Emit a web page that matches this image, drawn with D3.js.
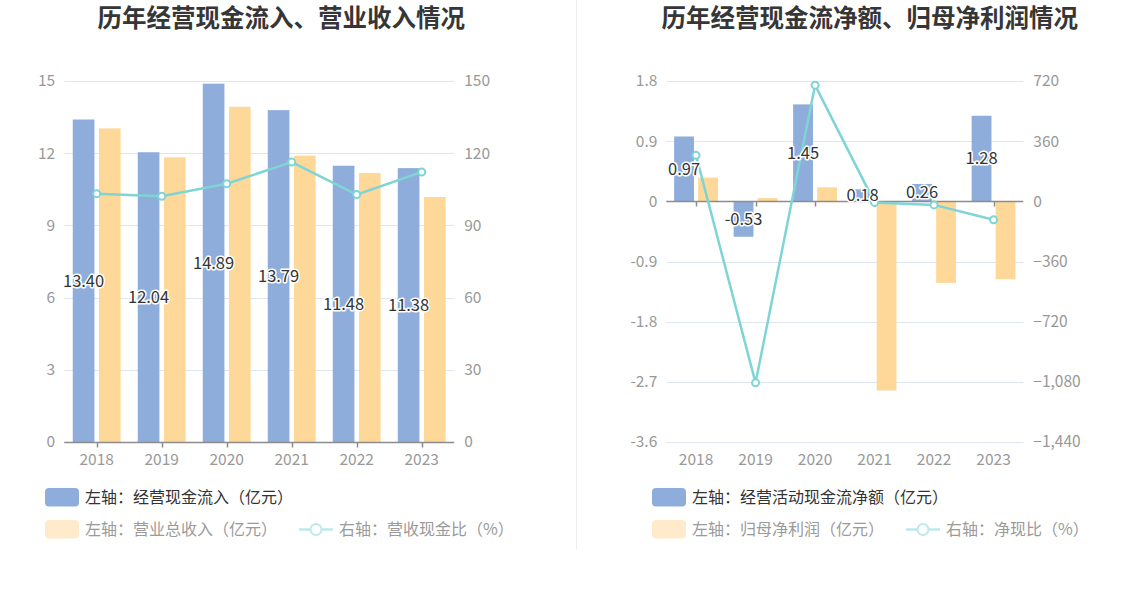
<!DOCTYPE html>
<html>
<head>
<meta charset="utf-8">
<script src="https://cdn.jsdelivr.net/npm/d3@7"></script>
<style>
  body { margin: 0; background: #fff; }
  svg { display: block; font-family: "Noto Sans CJK SC", "Open Sans", sans-serif; }
  .val { font-size: 16.5px; fill: #333; stroke: #fff; stroke-width: 3px; paint-order: stroke; stroke-linejoin: round; }
  .tick-label { font-size: 15.5px; fill: #999; }
</style>
</head>
<body>
<svg width="1148" height="589"></svg>
<script>
// categories
const years = ["2018", "2019", "2020", "2021", "2022", "2023"];

// left chart: 经营现金流入 / 营业总收入 (亿元), 营收现金比 (%)
const cashInflow = [13.40, 12.04, 14.89, 13.79, 11.48, 11.38];
const revenue = [13.03, 11.83, 13.93, 11.90, 11.18, 10.18];
const cashRatio = [103.2, 102.1, 107.3, 116.3, 102.8, 112.2];
const leftTicksL = [0, 3, 6, 9, 12, 15];
const leftTicksR = [0, 30, 60, 90, 120, 150];

// right chart: 经营活动现金流净额 / 归母净利润 (亿元), 净现比 (%)
const netCashFlow = [0.97, -0.53, 1.45, 0.18, 0.26, 1.28];
const netProfit = [0.355, 0.049, 0.209, -2.83, -1.22, -1.165];
const netCashRatio = [275, -1086, 695, -6.4, -21.3, -110];
const rightTicksL = [-3.6, -2.7, -1.8, -0.9, 0, 0.9, 1.8];
const rightTicksR = [-1440, -1080, -720, -360, 0, 360, 720];

const BLUE = "#8eadda", ORANGE = "#fed899", LINE = "#7fd4d6";
const GRID = "#e0e6f1", AXIS = "#8c8c8c";

const svg = d3.select("svg");
svg.append("rect").attr("width", 1148).attr("height", 589).attr("fill", "#fff");

// divider between the two charts
svg.append("line").attr("x1", 576.5).attr("x2", 576.5).attr("y1", 0).attr("y2", 549)
    .attr("stroke", "#eee");

function drawChart(c) {
    const g = svg.append("g");
    const x = d3.scaleBand().domain(years).range([c.x0, c.x1]);
    const yL = d3.scaleLinear().domain(d3.extent(c.ticksL)).range([442, 81]);
    const yR = d3.scaleLinear().domain(d3.extent(c.ticksR)).range([442, 81]);
    const bw = x.bandwidth() / 3, gap = bw * 0.21;
    const cx = d => x(d) + x.bandwidth() / 2;

    // title
    g.append("text").attr("x", (c.x0 + c.x1) / 2 + c.titleShift).attr("y", 27)
        .attr("text-anchor", "middle").attr("font-size", 24.5).attr("font-weight", "bold")
        .attr("fill", "#363636").text(c.title);

    // grid
    g.selectAll(".grid").data(c.ticksL.filter(t => t !== 0 || c.ticksL[0] !== 0)).enter()
        .append("line")
        .attr("x1", c.x0).attr("x2", c.x1)
        .attr("y1", d => Math.round(yL(d)) + 0.5).attr("y2", d => Math.round(yL(d)) + 0.5)
        .attr("stroke", GRID);

    // axis labels
    g.selectAll(".tl").data(c.ticksL).enter().append("text").attr("class", "tick-label")
        .attr("x", c.x0 - 9).attr("y", d => yL(d)).attr("dy", "0.35em")
        .attr("text-anchor", "end").text(d => c.fmtL(d));
    g.selectAll(".tr").data(c.ticksR).enter().append("text").attr("class", "tick-label")
        .attr("x", c.x1 + 10).attr("y", d => yR(d)).attr("dy", "0.35em")
        .attr("text-anchor", "start").text(d => c.fmtR(d));

    // bars
    g.selectAll(".b1").data(years).enter().append("rect")
        .attr("x", d => cx(d) - gap / 2 - bw)
        .attr("y", (d, i) => Math.min(yL(c.s1[i]), yL(0)))
        .attr("width", bw)
        .attr("height", (d, i) => Math.abs(yL(c.s1[i]) - yL(0)))
        .attr("fill", BLUE);
    g.selectAll(".b2").data(years).enter().append("rect")
        .attr("x", d => cx(d) + gap / 2)
        .attr("y", (d, i) => Math.min(yL(c.s2[i]), yL(0)))
        .attr("width", bw)
        .attr("height", (d, i) => Math.abs(yL(c.s2[i]) - yL(0)))
        .attr("fill", ORANGE);

    // x axis at zero
    const y0 = Math.round(yL(0)) + 0.5;
    g.append("line").attr("x1", c.x0).attr("x2", c.x1).attr("y1", y0).attr("y2", y0)
        .attr("stroke", AXIS).attr("stroke-width", 1.5);
    g.selectAll(".tk").data(years).enter().append("line")
        .attr("x1", d => Math.round(cx(d)) + 0.5).attr("x2", d => Math.round(cx(d)) + 0.5)
        .attr("y1", y0).attr("y2", y0 + 5).attr("stroke", AXIS).attr("stroke-width", 1.5);
    g.selectAll(".xl").data(years).enter().append("text").attr("class", "tick-label")
        .attr("x", cx).attr("y", 465).attr("text-anchor", "middle")
        .attr("font-size", 16).text(d => d);

    // ratio line
    const line = d3.line().x((d, i) => cx(years[i])).y(d => yR(d));
    g.append("path").datum(c.s3).attr("d", line).attr("fill", "none")
        .attr("stroke", LINE).attr("stroke-width", 2.5).attr("stroke-linejoin", "round");
    g.selectAll(".pt").data(c.s3).enter().append("circle")
        .attr("cx", (d, i) => cx(years[i])).attr("cy", d => yR(d)).attr("r", 3.5)
        .attr("fill", "#fff").attr("stroke", LINE).attr("stroke-width", 2);

    // value labels in middle of blue bars
    g.selectAll(".val").data(c.s1).enter().append("text").attr("class", "val")
        .attr("x", (d, i) => cx(years[i]) - gap / 2 - bw / 2)
        .attr("y", d => (yL(d) + yL(0)) / 2).attr("dy", "0.35em")
        .attr("text-anchor", "middle").text(d => d.toFixed(2));

    // legend
    const lg = g.append("g").attr("font-size", 16);
    lg.append("rect").attr("x", c.lx).attr("y", 488).attr("width", 34).attr("height", 18.5)
        .attr("rx", 4).attr("fill", BLUE);
    lg.append("text").attr("x", c.lx + 40).attr("y", 497).attr("dy", "0.35em")
        .attr("fill", "#333").text(c.leg[0]);
    lg.append("rect").attr("x", c.lx).attr("y", 520).attr("width", 34).attr("height", 18.5)
        .attr("rx", 4).attr("fill", "#ffebcb");
    const t2 = lg.append("text").attr("x", c.lx + 40).attr("y", 529.5).attr("dy", "0.35em")
        .attr("fill", "#9a9a9a").text(c.leg[1]);
    const ix = c.lx + 40 + t2.node().getComputedTextLength() + 22;
    lg.append("line").attr("x1", ix).attr("x2", ix + 34).attr("y1", 529.5).attr("y2", 529.5)
        .attr("stroke", "#bde9eb").attr("stroke-width", 2.5);
    lg.append("circle").attr("cx", ix + 17).attr("cy", 529.5).attr("r", 5.5)
        .attr("fill", "#fff").attr("stroke", "#bde9eb").attr("stroke-width", 2);
    lg.append("text").attr("x", ix + 40).attr("y", 529.5).attr("dy", "0.35em")
        .attr("fill", "#9a9a9a").text(c.leg[2]);
}

drawChart({
    x0: 64.2, x1: 454.2, titleShift: 22,
    title: "历年经营现金流入、营业收入情况",
    ticksL: leftTicksL, ticksR: leftTicksR,
    fmtL: d => d, fmtR: d => d,
    s1: cashInflow, s2: revenue, s3: cashRatio,
    lx: 45,
    leg: ["左轴：经营现金流入（亿元）", "左轴：营业总收入（亿元）", "右轴：营收现金比（%）"]
});

drawChart({
    x0: 666.3, x1: 1023.3, titleShift: 25,
    title: "历年经营现金流净额、归母净利润情况",
    ticksL: rightTicksL, ticksR: rightTicksR,
    fmtL: d => d, fmtR: d => d3.format(",")(d),
    s1: netCashFlow, s2: netProfit, s3: netCashRatio,
    lx: 652,
    leg: ["左轴：经营活动现金流净额（亿元）", "左轴：归母净利润（亿元）", "右轴：净现比（%）"]
});
</script>
</body>
</html>
